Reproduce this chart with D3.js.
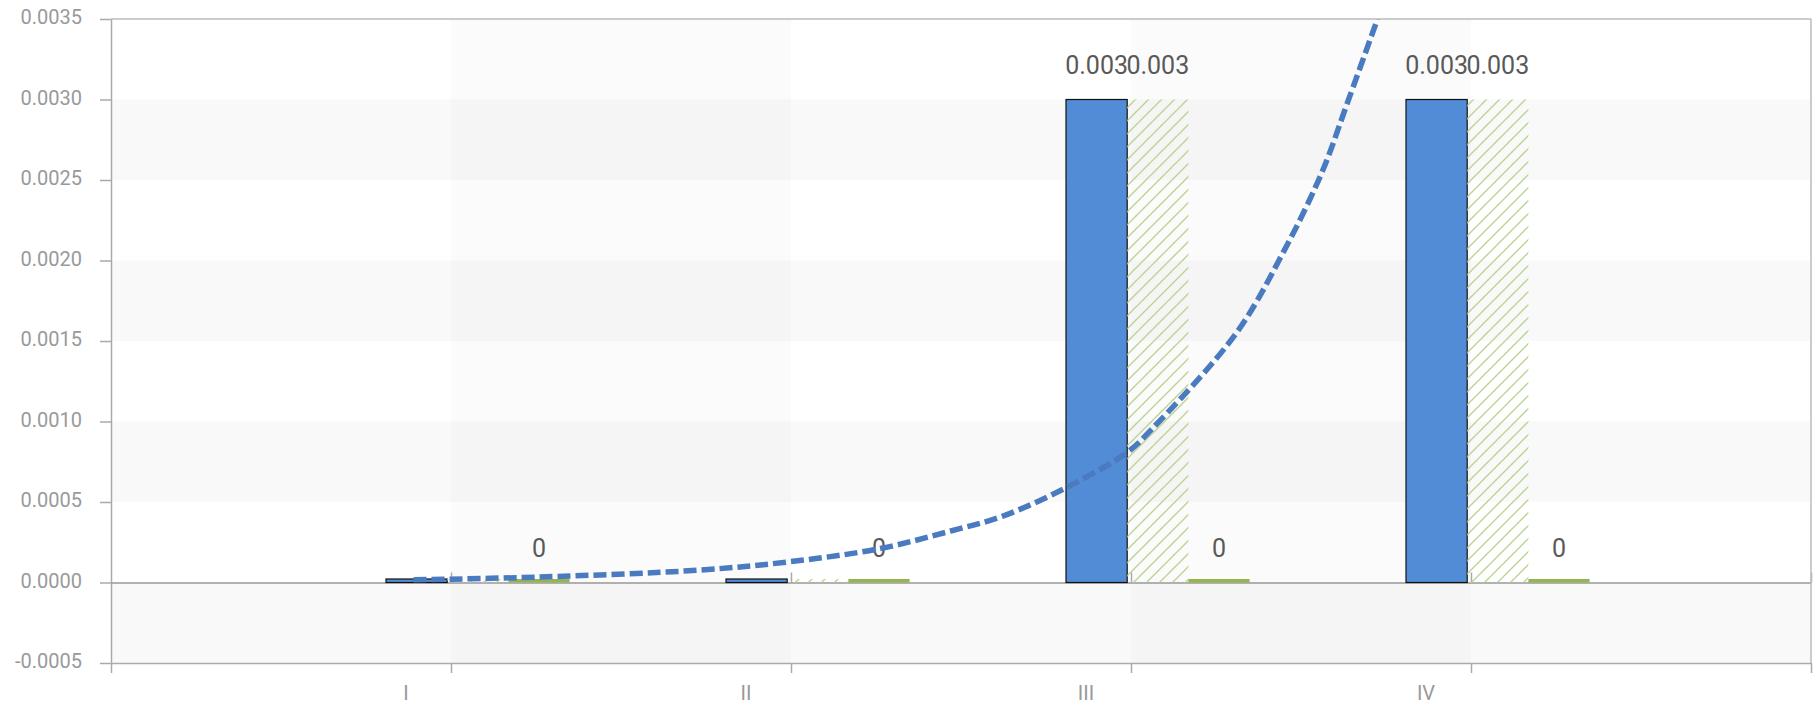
<!DOCTYPE html>
<html>
<head>
<meta charset="utf-8">
<script src="https://cdn.jsdelivr.net/npm/d3@7"></script>
<style>
  body { margin: 0; background: #fff; }
  svg text { font-family: Roboto, "Liberation Sans", sans-serif; }
</style>
</head>
<body>
<div id="chart"></div>
<script>
const categories = ["I", "II", "III", "IV"];
const blueValues = [0, 0, 0.003, 0.003];
const hatchValues = [0, 0, 0.003, 0.003];
const greenValues = [0, 0, 0, 0];
const yTicks = [-0.0005, 0, 0.0005, 0.001, 0.0015, 0.002, 0.0025, 0.003, 0.0035];
// dashed curve; x is in category units (I = 0, II = 1, ...)
const trendIndex = [-0.11, 0.26, 0.73, 1.0, 1.26, 1.47, 1.62, 1.81, 1.99, 2.06, 2.31, 2.45, 2.56, 2.64, 2.725];
const trendValues = [0.000017, 0.000034, 0.000077, 0.00013, 0.00021, 0.00032, 0.00041, 0.00059, 0.00081, 0.00095, 0.00155, 0.00206, 0.00254, 0.003, 0.0035];

const width = 1818, height = 708;
const margin = {top: 19, right: 7, bottom: 45, left: 111};

const svg = d3.select("#chart").append("svg")
  .attr("width", width)
  .attr("height", height);

const x = d3.scaleLinear().domain([-1, 4]).range([margin.left, width - margin.right]);
const y = d3.scaleLinear().domain([-0.0005, 0.0035]).range([height - margin.bottom, margin.top]);

const defs = svg.append("defs");
defs.append("clipPath").attr("id", "plot")
  .append("rect")
  .attr("x", x(-1)).attr("y", y(0.0035))
  .attr("width", x(4) - x(-1)).attr("height", y(-0.0005) - y(0.0035));

const hatch = defs.append("pattern")
  .attr("id", "hatch")
  .attr("patternUnits", "userSpaceOnUse")
  .attr("width", 13).attr("height", 13);
hatch.append("path")
  .attr("d", "M0,13 L13,0 M-3,3 L3,-3 M10,16 L16,10")
  .attr("stroke", "#bad493")
  .attr("stroke-width", 1.4);

// background stripes
const bands = d3.range(yTicks.length - 1).map(i => [yTicks[i], yTicks[i + 1]]);
svg.append("g").selectAll("rect")
  .data(bands.filter((b, i) => i % 2 == 0))
  .enter().append("rect")
  .attr("x", x(-1))
  .attr("width", x(4) - x(-1))
  .attr("y", d => y(d[1]))
  .attr("height", d => y(d[0]) - y(d[1]))
  .attr("fill", "rgba(0,0,0,0.025)");

svg.append("g").selectAll("rect")
  .data([0, 2])
  .enter().append("rect")
  .attr("x", d => x(d))
  .attr("width", d => x(d + 1) - x(d))
  .attr("y", y(0.0035))
  .attr("height", y(-0.0005) - y(0.0035))
  .attr("fill", "rgba(0,0,0,0.015)");

// axes
const axisColor = "#aaa";
const yAxis = svg.append("g")
  .attr("transform", `translate(${x(-1)},0)`)
  .call(d3.axisLeft(y).tickValues(yTicks).tickSize(11).tickSizeOuter(0).tickPadding(18)
    .tickFormat(d => d.toFixed(4)));
yAxis.selectAll("text").attr("font-size", 20).attr("fill", "#999").attr("dy", "0.23em");

const xAxis = svg.append("g")
  .attr("transform", `translate(0,${y(-0.0005)})`)
  .call(d3.axisBottom(x).tickValues(d3.range(-1, 5)).tickSize(10).tickSizeOuter(0).tickFormat(""));

const zeroAxis = svg.append("g")
  .attr("transform", `translate(0,${y(0)})`)
  .call(d3.axisTop(x).tickValues(d3.range(0, 5)).tickSize(10).tickSizeOuter(0).tickFormat(""));

svg.selectAll(".domain, .tick line").attr("stroke", axisColor).attr("stroke-width", 1.5);
zeroAxis.select(".domain").attr("stroke", "#999");

svg.append("line")
  .attr("x1", x(-1)).attr("x2", x(4))
  .attr("y1", y(0.0035)).attr("y2", y(0.0035))
  .attr("stroke", "#bbb").attr("stroke-width", 1.5);
svg.append("line")
  .attr("x1", x(4)).attr("x2", x(4))
  .attr("y1", y(0.0035)).attr("y2", y(-0.0005))
  .attr("stroke", "#bbb").attr("stroke-width", 1.5);

svg.append("g").selectAll("text")
  .data(categories)
  .enter().append("text")
  .attr("x", (d, i) => x(i) - 45)
  .attr("y", height - 8)
  .attr("text-anchor", "middle")
  .attr("font-size", 20)
  .attr("fill", "#999")
  .text(d => d);

// bars
const barWidth = (x(1) - x(0)) * 0.18;
const minBar = 3.5;
const series = [
  {values: blueValues, fill: "#528cd6", stroke: "#111", zeroLabel: false},
  {values: hatchValues, fill: "url(#hatch)", stroke: "none", zeroLabel: false},
  {values: greenValues, fill: "#93b653", stroke: "none", zeroLabel: true}
];
const fmt = v => +v.toFixed(3) + "";

series.forEach((s, k) => {
  const g = svg.append("g");
  const pts = s.values.map((v, i) => ({i: i, v: v}));
  const barX = d => x(d.i) - 65 + k * barWidth;

  g.selectAll("rect")
    .data(pts)
    .enter().append("rect")
    .attr("x", barX)
    .attr("width", barWidth)
    .attr("y", d => Math.min(y(d.v), y(0) - minBar))
    .attr("height", d => Math.max(y(0) - y(d.v), minBar))
    .attr("fill", s.fill)
    .attr("stroke", s.stroke)
    .attr("stroke-width", 1.2);

  g.selectAll("text")
    .data(pts.filter(d => d.v != 0 || s.zeroLabel))
    .enter().append("text")
    .attr("x", d => barX(d) + barWidth / 2)
    .attr("y", d => y(d.v) - 26)
    .attr("text-anchor", "middle")
    .attr("font-size", 25)
    .attr("fill", "#595959")
    .text(d => fmt(d.v));
});

// dashed curve
const trend = trendIndex.map((t, i) => [t, trendValues[i]]);
svg.append("path")
  .datum(trend)
  .attr("clip-path", "url(#plot)")
  .attr("fill", "none")
  .attr("stroke", "#4a7abf")
  .attr("stroke-width", 5.5)
  .attr("stroke-dasharray", "13,5")
  .attr("d", d3.line()
    .x(d => x(d[0]))
    .y(d => y(d[1]))
    .curve(d3.curveCatmullRom));
</script>
</body>
</html>
